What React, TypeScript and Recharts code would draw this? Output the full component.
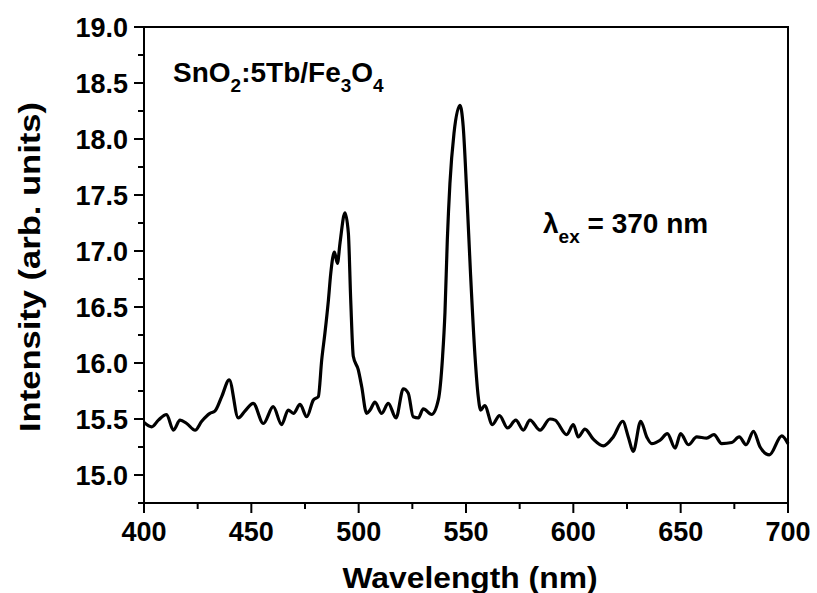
import React from "react";
import {
  LineChart,
  Line,
  XAxis,
  YAxis,
  ReferenceArea,
} from "recharts";

// emission spectrum
const wavelengths: number[] = [
  400, 403.6, 406.7, 410.5, 413.7, 416.8, 419.9, 423.8, 426.9, 430.7,
  433, 436.2, 439.7, 443.9, 447, 450.9, 455.6, 460.2, 464.1, 467.2,
  469.6, 472.7, 475.8, 478.9, 481.2, 482.8, 484.3, 485.9, 487, 488.7,
  490.1, 491.3, 493.6, 495.2, 496.3, 497.5, 499.8, 501.4, 503.7, 505.3,
  507.6, 510.7, 513.8, 517.4, 520.8, 523.1, 525.4, 527.8, 530.1, 534,
  537.1, 539.1, 540.2, 541.3, 542.5, 544.4, 547.2, 548.7, 550.3, 552.1,
  554.2, 555.7, 556.8, 558.7, 562.3, 565.6, 569.4, 573.2, 576.7, 579.8,
  584.5, 589.1, 591.5, 596.9, 600, 602.3, 605.4, 609.3, 614, 618.6,
  623, 625.6, 627.9, 631.4, 634.2, 636.5, 640.4, 643.8, 647.4, 650,
  653.6, 657.5, 662.1, 665.5, 669.1, 673.8, 677.3, 680.5, 683.9, 687,
  691.3, 697.1, 700,
];

const intensity: number[] = [
  15.47, 15.43, 15.49, 15.54, 15.4, 15.49, 15.46, 15.4, 15.48, 15.55,
  15.57, 15.7, 15.85, 15.51, 15.57, 15.64, 15.46, 15.61, 15.45, 15.58,
  15.55, 15.63, 15.52, 15.67, 15.7, 16.03, 16.27, 16.56, 16.8, 16.99,
  16.89, 17.07, 17.34, 17.16, 16.56, 16.06, 15.94, 15.79, 15.55, 15.58,
  15.65, 15.55, 15.64, 15.51, 15.77, 15.73, 15.52, 15.51, 15.59, 15.54,
  15.67, 16.06, 16.45, 17.1, 17.6, 18.05, 18.3, 18.11, 17.54, 16.8,
  16.06, 15.7, 15.58, 15.62, 15.45, 15.53, 15.42, 15.49, 15.4, 15.49,
  15.4, 15.5, 15.49, 15.36, 15.45, 15.34, 15.41, 15.32, 15.26, 15.34,
  15.48, 15.34, 15.21, 15.48, 15.34, 15.28, 15.31, 15.37, 15.24, 15.37,
  15.27, 15.34, 15.33, 15.36, 15.28, 15.29, 15.34, 15.27, 15.39, 15.25,
  15.18, 15.35, 15.28,
];

const xTicks: number[] = [400, 425, 450, 475, 500, 525, 550, 575, 600, 625, 650, 675, 700];
const yTicks: number[] = [
  14.75, 15, 15.25, 15.5, 15.75, 16, 16.25, 16.5, 16.75, 17, 17.25, 17.5, 17.75,
  18, 18.25, 18.5, 18.75, 19,
];

const data = wavelengths.map((wl, i) => ({ wl, val: intensity[i] }));

const FONT = "'Liberation Sans', Arial, sans-serif";

const XTick = (props: any) => {
  const { x, y, payload } = props;
  const major = payload.value % 50 === 0;
  return (
    <g>
      <line x1={x} y1={y} x2={x} y2={y + (major ? 10 : 6)} stroke="#000" strokeWidth={2} />
      {major && (
        <text x={x} y={y + 38} textAnchor="middle" fontFamily={FONT} fontWeight="bold" fontSize={27} fill="#000">
          {payload.value}
        </text>
      )}
    </g>
  );
};

const YTick = (props: any) => {
  const { x, y, payload } = props;
  const v = payload.value;
  const major = Math.abs(v * 2 - Math.round(v * 2)) < 1e-6;
  return (
    <g>
      <line x1={x - (major ? 10 : 6)} y1={y} x2={x} y2={y} stroke="#000" strokeWidth={2} />
      {major && (
        <text x={x - 16} y={y + 9.5} textAnchor="end" fontFamily={FONT} fontWeight="bold" fontSize={27} fill="#000">
          {v.toFixed(1)}
        </text>
      )}
    </g>
  );
};

export default function App() {
  return (
    <div style={{ position: "absolute", left: 0, top: 0, width: 817, height: 593, background: "#fff" }}>
      <LineChart width={817} height={593} data={data} margin={{ top: 27, right: 29, bottom: 0, left: 0 }}>
        <XAxis
          dataKey="wl"
          type="number"
          domain={[400, 700]}
          ticks={xTicks}
          interval={0}
          height={90}
          tickSize={0}
          tickMargin={0}
          tickLine={false}
          axisLine={false}
          tick={<XTick />}
        />
        <YAxis
          type="number"
          domain={[14.75, 19]}
          ticks={yTicks}
          interval={0}
          width={144}
          tickSize={0}
          tickMargin={0}
          tickLine={false}
          axisLine={false}
          tick={<YTick />}
        />
        <Line
          type="monotone"
          dataKey="val"
          stroke="#000"
          strokeWidth={3.2}
          dot={false}
          isAnimationActive={false}
        />
        <ReferenceArea x1={400} x2={700} y1={14.75} y2={19} fill="none" stroke="#000" strokeWidth={2} />
      </LineChart>
      <svg width={817} height={593} style={{ position: "absolute", left: 0, top: 0, pointerEvents: "none" }}>
        <g fontFamily={FONT} fontWeight="bold" fill="#000">
          <text x={173} y={82} fontSize={28}>
            SnO<tspan fontSize={19} dy={10}>2</tspan>
            <tspan dy={-10}>:5Tb/Fe</tspan>
            <tspan fontSize={19} dy={10}>3</tspan>
            <tspan dy={-10}>O</tspan>
            <tspan fontSize={19} dy={10}>4</tspan>
          </text>
          <text x={543} y={233} fontSize={28}>
            λ<tspan fontSize={19} dy={10}>ex</tspan>
            <tspan dy={-10}> = 370 nm</tspan>
          </text>
          <text x={470} y={588} fontSize={29} textAnchor="middle" textLength={255} lengthAdjust="spacingAndGlyphs">
            Wavelength (nm)
          </text>
          <text
            x={40}
            y={267}
            fontSize={29}
            textAnchor="middle"
            textLength={330}
            lengthAdjust="spacingAndGlyphs"
            transform="rotate(-90 40 267)"
          >
            Intensity (arb. units)
          </text>
        </g>
      </svg>
    </div>
  );
}
